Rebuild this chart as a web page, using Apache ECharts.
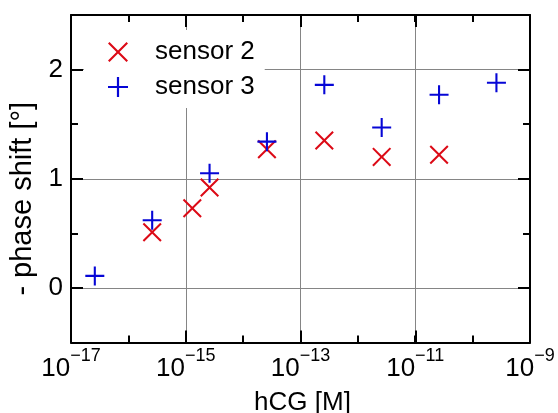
<!DOCTYPE html>
<html>
<head>
<meta charset="utf-8">
<script src="https://cdn.jsdelivr.net/npm/echarts@6/dist/echarts.min.js"></script>
<style>
  html, body { margin: 0; padding: 0; background: #fff; }
  #chart { width: 558px; height: 413px; }
</style>
</head>
<body>
<div id="chart"></div>
<script>
// hCG concentration [M] and measured phase shift [deg] per sensor
const concSensor2 = [2.6e-16, 1.3e-15, 2.6e-15, 2.6e-14, 2.6e-13, 2.6e-12, 2.6e-11];
const shiftSensor2 = [0.51, 0.73, 0.92, 1.27, 1.35, 1.20, 1.22];

const concSensor3 = [2.6e-17, 2.6e-16, 2.6e-15, 2.6e-14, 2.6e-13, 2.6e-12, 2.6e-11, 2.6e-10];
const shiftSensor3 = [0.11, 0.62, 1.05, 1.34, 1.86, 1.47, 1.77, 1.88];

// Axis ranges and labelled ticks
const xExpMin = -17, xExpMax = -9;
const xLabelExponents = [-17, -15, -13, -11, -9];
const yMin = -0.5, yMax = 2.5;
const yLabelValues = [0, 1, 2];

const FONT = '"Liberation Sans", Arial, Helvetica, sans-serif';
const RED = '#dc0a16';
const BLUE = '#0606d6';
const GRID_COLOR = '#858585';

// Stroke-like marker outlines drawn as filled paths
const SYMBOL_X = 'path://M0,1.5L8.5,10L0,18.5L1.5,20L10,11.5L18.5,20L20,18.5L11.5,10L20,1.5L18.5,0L10,8.5L1.5,0Z';
const SYMBOL_PLUS = 'path://M8.9,0L11.1,0L11.1,8.9L20,8.9L20,11.1L11.1,11.1L11.1,20L8.9,20L8.9,11.1L0,11.1L0,8.9L8.9,8.9Z';

const toPoints = (xs, ys) => xs.map((x, i) => [x, ys[i]]);

const frameLine = { show: true, onZero: false, lineStyle: { color: '#000', width: 2 } };
const noLine = { show: false, onZero: false };
const tickStyle = { color: '#000', width: 2 };

function powerLabel(v) {
  const e = Math.round(Math.log10(v));
  if (!xLabelExponents.includes(e)) return '';
  return '{b|10}{s|' + (e < 0 ? '\u2212' : '') + Math.abs(e) + '}';
}

const chart = echarts.init(document.getElementById('chart'), null, { renderer: 'canvas' });

chart.setOption({
  animation: false,
  backgroundColor: '#fff',
  textStyle: { fontFamily: FONT },
  grid: {
    left: 71, right: 28, top: 15, bottom: 70.5,
    containLabel: false,
    outerBoundsMode: 'none'
  },
  legend: {
    data: ['sensor 2', 'sensor 3'],
    orient: 'vertical',
    left: 84,
    top: 30,
    padding: [9, 10, 8, 24],
    backgroundColor: '#fff',
    itemWidth: 20,
    itemHeight: 20,
    itemGap: 9,
    selectedMode: false,
    textStyle: {
      fontFamily: FONT, fontSize: 26, color: '#000',
      lineHeight: 26, padding: [0, 0, 0, 22]
    }
  },
  xAxis: [
    {
      type: 'log', logBase: 10,
      min: Math.pow(10, xExpMin), max: Math.pow(10, xExpMax),
      position: 'bottom',
      axisLine: frameLine,
      axisTick: { show: true, inside: true, length: 7, lineStyle: tickStyle },
      minorTick: { show: false },
      splitLine: { show: false },
      axisLabel: {
        show: true, margin: 5, formatter: powerLabel,
        rich: {
          b: { fontFamily: FONT, fontSize: 26, color: '#000', lineHeight: 34, verticalAlign: 'bottom' },
          s: { fontFamily: FONT, fontSize: 18, color: '#000', lineHeight: 16, verticalAlign: 'top' }
        }
      },
      name: 'hCG [M]',
      nameLocation: 'middle',
      nameGap: 47,
      nameTextStyle: { fontFamily: FONT, fontSize: 26, color: '#000', padding: [0, 0, 0, 4] }
    },
    {
      type: 'log', logBase: 10,
      min: Math.pow(10, xExpMin), max: Math.pow(10, xExpMax),
      position: 'top',
      axisLine: frameLine,
      axisTick: { show: true, inside: true, length: 7, lineStyle: tickStyle },
      minorTick: { show: false },
      splitLine: { show: false },
      axisLabel: { show: false }
    },
    {
      // every second decade: longer ticks and vertical grid lines
      type: 'value', min: xExpMin, max: xExpMax, interval: 2,
      position: 'bottom',
      axisLine: noLine,
      axisTick: { show: true, inside: true, length: 12, lineStyle: tickStyle },
      splitLine: { show: true, lineStyle: { color: GRID_COLOR, width: 1 } },
      axisLabel: { show: false }
    },
    {
      type: 'value', min: xExpMin, max: xExpMax, interval: 2,
      position: 'top',
      axisLine: noLine,
      axisTick: { show: true, inside: true, length: 12, lineStyle: tickStyle },
      splitLine: { show: false },
      axisLabel: { show: false }
    }
  ],
  yAxis: [
    {
      type: 'value', min: yMin, max: yMax, interval: 0.5,
      position: 'left',
      axisLine: frameLine,
      axisTick: { show: true, inside: true, length: 7, lineStyle: tickStyle },
      splitLine: { show: false },
      axisLabel: {
        show: true, margin: 8, fontFamily: FONT, fontSize: 26, color: '#000',
        formatter: v => (yLabelValues.includes(v) ? String(v) : '')
      },
      name: '- phase shift [\u00b0]',
      nameLocation: 'middle',
      nameGap: 29,
      nameTextStyle: { fontFamily: FONT, fontSize: 29, color: '#000', padding: [0, 40, 0, 0] }
    },
    {
      type: 'value', min: yMin, max: yMax, interval: 0.5,
      position: 'right',
      axisLine: frameLine,
      axisTick: { show: true, inside: true, length: 7, lineStyle: tickStyle },
      splitLine: { show: false },
      axisLabel: { show: false }
    },
    {
      // whole units: longer ticks and horizontal grid lines
      type: 'value', min: yMin, max: yMax, splitNumber: 3,
      position: 'left',
      axisLine: noLine,
      axisTick: { show: true, inside: true, length: 12, lineStyle: tickStyle },
      splitLine: { show: true, lineStyle: { color: GRID_COLOR, width: 1 } },
      axisLabel: { show: false }
    },
    {
      type: 'value', min: yMin, max: yMax, splitNumber: 3,
      position: 'right',
      axisLine: noLine,
      axisTick: { show: true, inside: true, length: 12, lineStyle: tickStyle },
      splitLine: { show: false },
      axisLabel: { show: false }
    }
  ],
  series: [
    {
      name: 'sensor 2',
      type: 'scatter',
      xAxisIndex: 0, yAxisIndex: 0,
      data: toPoints(concSensor2, shiftSensor2),
      symbol: SYMBOL_X,
      symbolSize: 19,
      itemStyle: { color: RED, opacity: 1 }
    },
    {
      name: 'sensor 3',
      type: 'scatter',
      xAxisIndex: 0, yAxisIndex: 0,
      data: toPoints(concSensor3, shiftSensor3),
      symbol: SYMBOL_PLUS,
      symbolSize: 19,
      itemStyle: { color: BLUE, opacity: 1 }
    }
  ]
});
</script>
</body>
</html>
